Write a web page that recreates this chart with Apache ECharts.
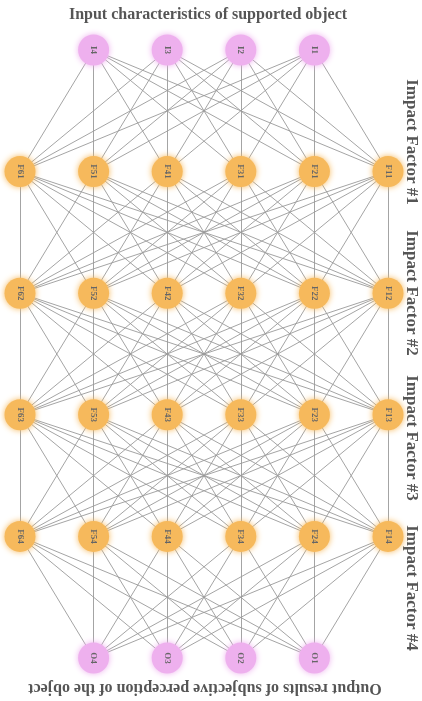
<!DOCTYPE html>
<html>
<head>
<meta charset="utf-8">
<script src="https://cdn.jsdelivr.net/npm/echarts@6/dist/echarts.min.js"></script>
<style>html,body{margin:0;padding:0;background:#fff}#c{width:422px;height:701px}</style>
</head>
<body>
<div id="c"></div>
<script>
// Layers of the network, left to right within each layer
var inputNodes = ['I4', 'I3', 'I2', 'I1'];
var factor1 = ['F61', 'F51', 'F41', 'F31', 'F21', 'F11'];
var factor2 = ['F62', 'F52', 'F42', 'F32', 'F22', 'F12'];
var factor3 = ['F63', 'F53', 'F43', 'F33', 'F23', 'F13'];
var factor4 = ['F64', 'F54', 'F44', 'F34', 'F24', 'F14'];
var outputNodes = ['O4', 'O3', 'O2', 'O1'];
// column offset of each layer (inputs/outputs start at column 1)
var layers = [inputNodes, factor1, factor2, factor3, factor4, outputNodes];
var layerOffsets = [1, 0, 0, 0, 0, 1];
var topTitle = 'Input characteristics of supported object';
var bottomTitle = 'Output results of subjective perception of the object';
var sideTitles = ['Impact Factor #1', 'Impact Factor #2', 'Impact Factor #3', 'Impact Factor #4'];

var PINK = '#eeb0ee', ORANGE = '#f6b95c';
var nodes = [], links = [];
layers.forEach(function (layer, r) {
  var isIO = (r === 0 || r === layers.length - 1);
  layer.forEach(function (name, i) {
    nodes.push({
      name: name,
      value: [i + layerOffsets[r], r],
      itemStyle: { color: isIO ? PINK : ORANGE, shadowBlur: 6, shadowColor: isIO ? PINK : ORANGE }
    });
  });
  if (r > 0) {
    layers[r - 1].forEach(function (a) {
      layer.forEach(function (b) { links.push({ source: a, target: b }); });
    });
  }
});

var chart = echarts.init(document.getElementById('c'), null, { renderer: 'canvas' });
var serif = '"Liberation Serif", "DejaVu Serif", serif';
var sideGraphics = sideTitles.map(function (t, i) {
  var ys = [142, 293, 438, 588];
  return {
    type: 'text', x: 411, y: ys[i], rotation: -Math.PI / 2,
    style: { text: t, x: 0, y: 0, align: 'center', verticalAlign: 'middle',
      font: 'bold 17px ' + serif, fill: '#555' }
  };
});
chart.setOption({
  animation: false,
  backgroundColor: '#fff',
  grid: { left: 20, right: 34, top: 50, bottom: 43 },
  xAxis: { type: 'value', min: 0, max: 5, show: false },
  yAxis: { type: 'value', min: 0, max: 5, inverse: true, show: false },
  graphic: [
    { type: 'text', x: 208, y: 15, style: { text: topTitle, x: 0, y: 0, align: 'center', verticalAlign: 'middle', font: 'bold 16px ' + serif, fill: '#555' } },
    { type: 'text', x: 205, y: 688, rotation: Math.PI, style: { text: bottomTitle, x: 0, y: 0, align: 'center', verticalAlign: 'middle', font: 'bold 16px ' + serif, fill: '#555' } }
  ].concat(sideGraphics),
  series: [{
    type: 'graph',
    coordinateSystem: 'cartesian2d',
    symbolSize: 31,
    data: nodes,
    links: links,
    lineStyle: { color: '#9a9a9a', width: 0.9, opacity: 1 },
    label: { show: true, position: 'inside', rotate: -90, fontSize: 9, fontWeight: 'bold', fontFamily: serif, color: '#666' },
    emphasis: { disabled: true }
  }]
});
</script>
</body>
</html>
